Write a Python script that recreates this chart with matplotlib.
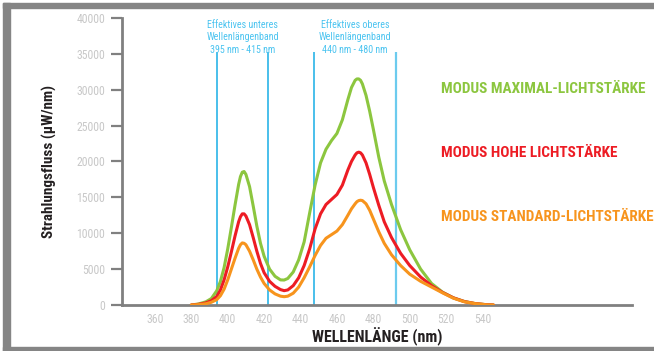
import matplotlib
matplotlib.use('Agg')
import matplotlib.pyplot as plt
from matplotlib import font_manager
from matplotlib.patches import Rectangle

# wavelength grid (nm) and spectra (µW/nm)
wavelength = [380, 384, 388, 391, 394, 396, 398, 400, 402, 404,
              406, 407, 408, 409, 410, 412, 414, 416, 418, 420,
              423, 426, 429, 431, 433, 436, 439, 442, 445, 448,
              451, 454, 457, 460, 463, 466, 468, 470, 471, 472,
              473, 474, 476, 478, 480, 483, 486, 490, 495, 500,
              506, 512, 518, 524, 530, 536, 542, 546]

maximal = [0, 150, 450, 900, 2000, 3300, 5200, 7800, 10800, 13900,
           16800, 17900, 18500, 18600, 18200, 16500, 13800, 11000, 8600, 6800,
           5000, 4000, 3500, 3480, 3700, 4600, 6300, 8800, 12800, 16700,
           19800, 21700, 22900, 23900, 25800, 28600, 30300, 31300, 31500, 31500,
           31300, 30800, 29200, 27000, 24500, 20600, 17300, 14000, 10500, 7700,
           5000, 3000, 1800, 1000, 500, 200, 50, 0]

hohe = [0, 100, 300, 600, 1200, 2100, 3500, 5300, 7400, 9600,
        11600, 12300, 12700, 12700, 12400, 11200, 9400, 7500, 5800, 4500,
        3300, 2600, 2150, 2000, 2100, 2700, 3800, 5500, 7800, 10600,
        12700, 14000, 14700, 15400, 16700, 18800, 20000, 20900, 21200, 21300,
        21200, 20900, 19800, 18200, 16400, 13900, 11600, 9400, 7200, 5500,
        3900, 2700, 1750, 1000, 480, 200, 50, 0]

standard = [0, 60, 180, 380, 750, 1300, 2200, 3500, 5000, 6500,
            7900, 8400, 8650, 8600, 8400, 7500, 6300, 5000, 3900, 3000,
            2100, 1550, 1230, 1160, 1230, 1650, 2500, 3800, 5300, 6900,
            8300, 9300, 9800, 10300, 11200, 12500, 13400, 14100, 14400, 14550,
            14600, 14550, 14100, 13200, 12000, 10200, 8600, 7000, 5500, 4300,
            3300, 2500, 1700, 950, 450, 190, 40, 0]

series_labels = ['MODUS MAXIMAL-LICHTSTÄRKE', 'MODUS HOHE LICHTSTÄRKE', 'MODUS STANDARD-LICHTSTÄRKE']
series_colors = ['#8cc63f', '#ed1c24', '#f7941d']

band_edges = [394, 422.3, 447.5, 492.4]
band_texts = ['Effektives unteres\nWellenlängenband\n395 nm - 415 nm',
              'Effektives oberes\nWellenlängenband\n440 nm - 480 nm']

x_ticks = [360, 380, 400, 420, 440, 460, 480, 500, 520, 540]
y_ticks = [0, 5000, 10000, 15000, 20000, 25000, 30000, 35000, 40000]

# pick a narrow font if one is around
installed = {f.name for f in font_manager.fontManager.ttflist}
narrow = 'DejaVu Sans'
for name in ['Liberation Sans Narrow', 'Roboto Condensed', 'Open Sans Condensed', 'Noto Sans', 'Liberation Sans']:
    if name in installed:
        narrow = name
        break
plt.rcParams['font.family'] = [narrow, 'DejaVu Sans']

fig = plt.figure(figsize=(6.54, 3.51), dpi=100)
ax = fig.add_axes([0.1865, 0.131, 0.7795, 0.818])

# gray frame around the picture
frame = '#858585'
fig.patches.append(Rectangle((0.005, 0.977), 0.995, 0.014, transform=fig.transFigure, color=frame))
fig.patches.append(Rectangle((0.005, 0.0), 0.010, 0.991, transform=fig.transFigure, color=frame))
fig.patches.append(Rectangle((0.005, 0.0), 0.995, 0.012, transform=fig.transFigure, color=frame))

for i, edge in enumerate(band_edges):
    ax.vlines(edge, 0, 35300, color='#2ab4e8' if i < 3 else '#6ccbee',
              linewidth=1.2 if i < 3 else 1.6, zorder=1)

ax.text((band_edges[0] + band_edges[1]) / 2, 39700, band_texts[0], ha='center', va='top',
        fontsize=7.2, color='#4cc4f0', linespacing=1.3)
ax.text((band_edges[2] + band_edges[3]) / 2, 39700, band_texts[1], ha='center', va='top',
        fontsize=7.2, color='#4cc4f0', linespacing=1.3)

for values, color in zip([maximal, hohe, standard], series_colors):
    ax.plot(wavelength, values, color=color, linewidth=2.2, solid_joinstyle='round',
            solid_capstyle='round', zorder=3)

label_y = [30100, 21200, 12300]
for text, color, yy in zip(series_labels, series_colors, label_y):
    ax.text(517, yy, text, ha='left', va='center', fontsize=11, fontweight='bold', color=color)

ax.set_xlim(341.9, 622)
ax.set_ylim(0, 40000)
ax.set_xticks(x_ticks)
ax.set_yticks(y_ticks)
ax.tick_params(axis='x', length=0, pad=6, labelsize=8.5, labelcolor='#c8c8c8')
ax.tick_params(axis='y', length=8, width=1.6, color='#808080', pad=4, labelsize=8.5, labelcolor='#c8c8c8')

for side in ['top', 'right']:
    ax.spines[side].set_visible(False)
for side in ['left', 'bottom']:
    ax.spines[side].set_color('#808080')
    ax.spines[side].set_linewidth(2)

ax.set_xlabel('WELLENLÄNGE (nm)', fontsize=11.5, fontweight='bold', color='#231f20', labelpad=1)
ax.set_ylabel('Strahlungsfluss (µW/nm)', fontsize=11, fontweight='bold', color='#231f20', labelpad=14)

fig.savefig('out.png', dpi=100)
